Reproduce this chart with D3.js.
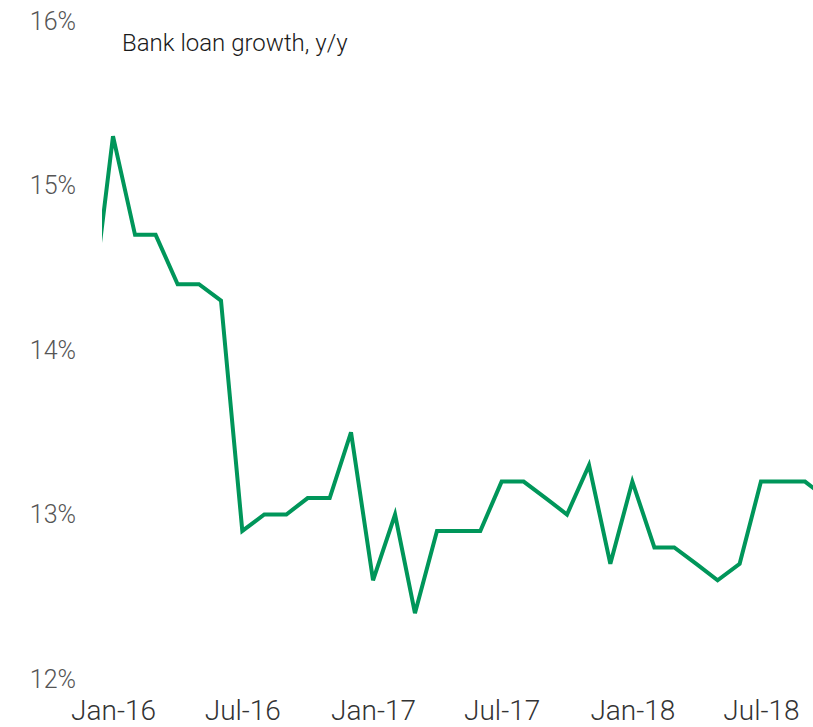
<!DOCTYPE html>
<html>
<head>
<meta charset="utf-8">
<script src="https://cdn.jsdelivr.net/npm/d3@7"></script>
<style>
  html, body { margin: 0; padding: 0; background: #fff; }
  svg { display: block; }
  .y-axis text { font-family: Roboto, "Liberation Sans", sans-serif; font-weight: 300; font-size: 25px; fill: #555; }
  .x-axis text { font-family: Roboto, "Liberation Sans", sans-serif; font-weight: 300; font-size: 28px; fill: #333; }
  .title { font-family: Roboto, "Liberation Sans", sans-serif; font-weight: 300; font-size: 24px; fill: #1a1a1a; }
</style>
</head>
<body>
<script>
// Monthly bank loan growth, year over year (%)
const months = [
  "2015-12",
  "2016-01", "2016-02", "2016-03", "2016-04", "2016-05", "2016-06",
  "2016-07", "2016-08", "2016-09", "2016-10", "2016-11", "2016-12",
  "2017-01", "2017-02", "2017-03", "2017-04", "2017-05", "2017-06",
  "2017-07", "2017-08", "2017-09", "2017-10", "2017-11", "2017-12",
  "2018-01", "2018-02", "2018-03", "2018-04", "2018-05", "2018-06",
  "2018-07", "2018-08", "2018-09", "2018-10"
];
const loanGrowth = [
  14.2,
  15.3, 14.7, 14.7, 14.4, 14.4, 14.3,
  12.9, 13.0, 13.0, 13.1, 13.1, 13.5,
  12.6, 13.0, 12.4, 12.9, 12.9, 12.9,
  13.2, 13.2, 13.1, 13.0, 13.3, 12.7,
  13.2, 12.8, 12.8, 12.7, 12.6, 12.7,
  13.2, 13.2, 13.2, 13.1
];
const yTicks = [12, 13, 14, 15, 16];
const xTicks = ["2016-01", "2016-07", "2017-01", "2017-07", "2018-01", "2018-07"];
const titleText = "Bank loan growth, y/y";

const W = 813, H = 727;
const parse = d3.timeParse("%Y-%m");
const data = months.map((m, i) => ({ date: parse(m), value: loanGrowth[i] }));

const svg = d3.select("body").append("svg")
  .attr("width", W).attr("height", H);

const x = d3.scaleTime()
  .domain([parse("2016-01"), parse("2018-09")])
  .range([113, 805]);

const y = d3.scaleLinear()
  .domain([12, 16])
  .range([679, 21]);

// Y axis labels only
svg.append("g")
  .attr("class", "y-axis")
  .attr("transform", "translate(82,0)")
  .call(d3.axisLeft(y).tickValues(yTicks).tickSize(0).tickPadding(6)
    .tickFormat(d => d + "%"))
  .call(g => g.select(".domain").remove());

// X axis labels only
svg.append("g")
  .attr("class", "x-axis")
  .attr("transform", "translate(0,697)")
  .call(d3.axisBottom(x).tickValues(xTicks.map(parse)).tickSize(0).tickPadding(3)
    .tickFormat(d3.timeFormat("%b-%y")))
  .call(g => g.select(".domain").remove());

svg.append("text")
  .attr("class", "title")
  .attr("x", 122).attr("y", 51)
  .text(titleText);

// Plot area clip
svg.append("clipPath").attr("id", "plot-clip")
  .append("rect").attr("x", 102).attr("y", 0).attr("width", W - 102).attr("height", H);

const line = d3.line()
  .x(d => x(d.date))
  .y(d => y(d.value));

svg.append("path")
  .datum(data)
  .attr("clip-path", "url(#plot-clip)")
  .attr("fill", "none")
  .attr("stroke", "#00965A")
  .attr("stroke-width", 4)
  .attr("stroke-linejoin", "miter")
  .attr("d", line);
</script>
</body>
</html>
